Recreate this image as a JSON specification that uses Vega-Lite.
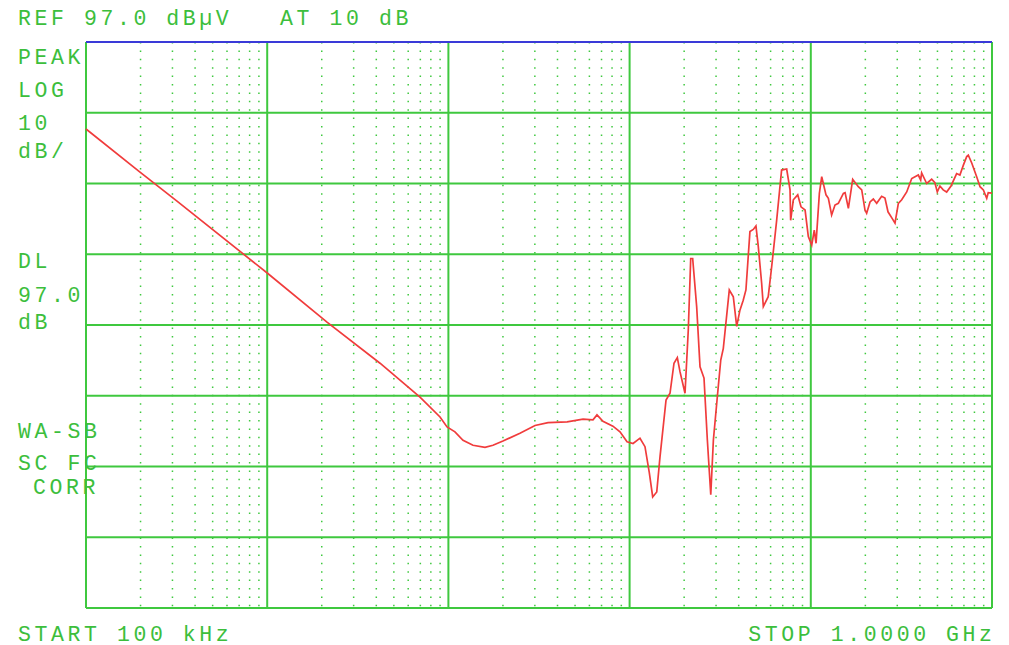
{
  "$schema": "https://vega.github.io/schema/vega-lite/v6.json",
  "width": 906,
  "height": 566,
  "autosize": {"type": "none"},
  "padding": {"left": 86, "top": 42, "right": 17, "bottom": 37},
  "background": "white",
  "config": {"view": {"stroke": null}},
  "datasets": {
    "trace": [
      {"f": 10000, "db": 84.7}, {"f": 19860, "db": 78.6}, {"f": 31780, "db": 74.5},
      {"f": 100000, "db": 64.35}, {"f": 213800, "db": 57.4}, {"f": 419400, "db": 51.6},
      {"f": 697000, "db": 46.8}, {"f": 899000, "db": 44.0}, {"f": 983000, "db": 42.6},
      {"f": 1087000, "db": 41.9}, {"f": 1204000, "db": 40.7}, {"f": 1367000, "db": 40.0},
      {"f": 1592000, "db": 39.7}, {"f": 1762000, "db": 40.0}, {"f": 2000000, "db": 40.6},
      {"f": 2483000, "db": 41.7}, {"f": 3006000, "db": 42.8}, {"f": 3548000, "db": 43.2},
      {"f": 4520000, "db": 43.3}, {"f": 5535000, "db": 43.7}, {"f": 6280000, "db": 43.6},
      {"f": 6607000, "db": 44.3}, {"f": 7130000, "db": 43.4}, {"f": 8090000, "db": 42.7},
      {"f": 8850000, "db": 41.9}, {"f": 9680000, "db": 40.5}, {"f": 10450000, "db": 40.25},
      {"f": 11410000, "db": 41.0}, {"f": 12160000, "db": 39.8}, {"f": 12850000, "db": 36.1},
      {"f": 13410000, "db": 32.7}, {"f": 14120000, "db": 33.4}, {"f": 14720000, "db": 38.4},
      {"f": 15890000, "db": 46.4}, {"f": 16710000, "db": 47.35}, {"f": 17580000, "db": 51.6},
      {"f": 18340000, "db": 52.4}, {"f": 18970000, "db": 50.4}, {"f": 20220000, "db": 47.35},
      {"f": 21080000, "db": 56.3}, {"f": 21740000, "db": 66.4}, {"f": 22290000, "db": 66.4},
      {"f": 23450000, "db": 59.6}, {"f": 24470000, "db": 51.1}, {"f": 25740000, "db": 49.5},
      {"f": 26860000, "db": 40.75}, {"f": 28050000, "db": 33.0}, {"f": 29000000, "db": 40.75},
      {"f": 30500000, "db": 46.9}, {"f": 31850000, "db": 52.05}, {"f": 32900000, "db": 53.7},
      {"f": 35500000, "db": 61.95}, {"f": 37350000, "db": 61.0}, {"f": 39000000, "db": 56.8},
      {"f": 40640000, "db": 59.1}, {"f": 42370000, "db": 60.5}, {"f": 43850000, "db": 61.95},
      {"f": 46140000, "db": 70.2}, {"f": 48150000, "db": 70.5}, {"f": 49800000, "db": 71.0},
      {"f": 51300000, "db": 68.1}, {"f": 53550000, "db": 62.9}, {"f": 54700000, "db": 59.6},
      {"f": 58200000, "db": 61.0}, {"f": 60800000, "db": 65.2}, {"f": 64800000, "db": 71.8},
      {"f": 69000000, "db": 78.9}, {"f": 73600000, "db": 79.05}, {"f": 76800000, "db": 76.1},
      {"f": 77400000, "db": 71.8}, {"f": 80100000, "db": 74.7}, {"f": 84700000, "db": 75.4},
      {"f": 88300000, "db": 73.7}, {"f": 93000000, "db": 73.25}, {"f": 96900000, "db": 69.5},
      {"f": 101200000, "db": 68.3}, {"f": 104500000, "db": 70.4}, {"f": 106900000, "db": 68.55},
      {"f": 111500000, "db": 75.6}, {"f": 114900000, "db": 77.96}, {"f": 121300000, "db": 75.4},
      {"f": 125000000, "db": 74.9}, {"f": 130300000, "db": 72.55}, {"f": 136000000, "db": 73.96},
      {"f": 141900000, "db": 74.2}, {"f": 151300000, "db": 75.6}, {"f": 154600000, "db": 75.7},
      {"f": 161200000, "db": 73.5}, {"f": 170300000, "db": 77.6}, {"f": 182900000, "db": 76.55},
      {"f": 191000000, "db": 76.1}, {"f": 199100000, "db": 73.25}, {"f": 203300000, "db": 72.8},
      {"f": 212300000, "db": 74.4}, {"f": 221300000, "db": 74.8}, {"f": 231000000, "db": 74.2},
      {"f": 246000000, "db": 75.2}, {"f": 256600000, "db": 74.95}, {"f": 266700000, "db": 73.0},
      {"f": 280500000, "db": 72.1}, {"f": 291500000, "db": 71.4}, {"f": 304200000, "db": 74.2},
      {"f": 317500000, "db": 74.7}, {"f": 338300000, "db": 75.8}, {"f": 360500000, "db": 77.7},
      {"f": 392000000, "db": 78.2}, {"f": 404000000, "db": 77.5}, {"f": 409000000, "db": 78.5},
      {"f": 436000000, "db": 77.0}, {"f": 464500000, "db": 77.6}, {"f": 484000000, "db": 77.1},
      {"f": 499000000, "db": 75.8}, {"f": 516000000, "db": 76.65}, {"f": 538000000, "db": 76.1},
      {"f": 562000000, "db": 75.8}, {"f": 594000000, "db": 76.65}, {"f": 638000000, "db": 78.4},
      {"f": 665000000, "db": 78.2}, {"f": 695000000, "db": 79.6}, {"f": 725000000, "db": 80.8},
      {"f": 740000000, "db": 81.0}, {"f": 773000000, "db": 79.9}, {"f": 823000000, "db": 77.96},
      {"f": 859000000, "db": 76.55}, {"f": 896000000, "db": 76.1}, {"f": 935000000, "db": 74.9},
      {"f": 953000000, "db": 75.7}, {"f": 1000000000, "db": 75.65}
    ],
    "minor": [
      {"f": 20000}, {"f": 30000}, {"f": 40000}, {"f": 50000}, {"f": 60000}, {"f": 70000}, {"f": 80000}, {"f": 90000},
      {"f": 200000}, {"f": 300000}, {"f": 400000}, {"f": 500000}, {"f": 600000}, {"f": 700000}, {"f": 800000}, {"f": 900000},
      {"f": 2000000}, {"f": 3000000}, {"f": 4000000}, {"f": 5000000}, {"f": 6000000}, {"f": 7000000}, {"f": 8000000}, {"f": 9000000},
      {"f": 20000000}, {"f": 30000000}, {"f": 40000000}, {"f": 50000000}, {"f": 60000000}, {"f": 70000000}, {"f": 80000000}, {"f": 90000000},
      {"f": 200000000}, {"f": 300000000}, {"f": 400000000}, {"f": 500000000}, {"f": 600000000}, {"f": 700000000}, {"f": 800000000}, {"f": 900000000}
    ],
    "majorx": [
      {"f": 10000}, {"f": 100000}, {"f": 1000000}, {"f": 10000000}, {"f": 100000000}, {"f": 1000000000}
    ],
    "majory": [
      {"db": 17}, {"db": 27}, {"db": 37}, {"db": 47}, {"db": 57}, {"db": 67}, {"db": 77}, {"db": 87}
    ],
    "labelsLeft": [
      {"label": "R\u2006E\u2006F\u2006 \u20069\u20067\u2006.\u20060\u2006 \u2006d\u2006B\u2006µ\u2006V", "f": 4214, "db": 99.4},
      {"label": "A\u2006T\u2006 \u20061\u20060\u2006 \u2006d\u2006B", "f": 117700, "db": 99.4},
      {"label": "P\u2006E\u2006A\u2006K", "f": 4214, "db": 93.9},
      {"label": "L\u2006O\u2006G", "f": 4214, "db": 89.2},
      {"label": "1\u20060", "f": 4214, "db": 84.56},
      {"label": "d\u2006B\u2006/", "f": 4214, "db": 80.56},
      {"label": "D\u2006L", "f": 4214, "db": 65.1},
      {"label": "9\u20067\u2006.\u20060", "f": 4214, "db": 60.3},
      {"label": "d\u2006B", "f": 4214, "db": 56.5},
      {"label": "W\u2006A\u2006-\u2006S\u2006B", "f": 4214, "db": 41.07},
      {"label": "S\u2006C\u2006 \u2006F\u2006C", "f": 4214, "db": 36.5},
      {"label": "C\u2006O\u2006R\u2006R", "f": 5098, "db": 33.07},
      {"label": "S\u2006T\u2006A\u2006R\u2006T\u2006 \u20061\u20060\u20060\u2006 \u2006k\u2006H\u2006z", "f": 4214, "db": 12.4}
    ],
    "labelsRight": [
      {"label": "S\u2006T\u2006O\u2006P\u2006 \u20061\u2006.\u20060\u20060\u20060\u20060\u2006 \u2006G\u2006H\u2006z", "f": 1000000000, "db": 12.4}
    ]
  },
  "layer": [
    {
      "data": {"name": "minor"},
      "mark": {"type": "rule", "color": "#3fc83f", "strokeWidth": 1.5, "strokeDash": [1.5, 6.9]},
      "encoding": {
        "x": {"field": "f", "type": "quantitative", "scale": {"type": "log", "domain": [10000, 1000000000], "nice": false}, "axis": null}
      }
    },
    {
      "data": {"name": "majory"},
      "mark": {"type": "rule", "color": "#3fc83f", "strokeWidth": 2},
      "encoding": {
        "y": {"field": "db", "type": "quantitative", "scale": {"domain": [17, 97], "nice": false, "zero": false}, "axis": null}
      }
    },
    {
      "data": {"name": "majorx"},
      "mark": {"type": "rule", "color": "#3fc83f", "strokeWidth": 2},
      "encoding": {
        "x": {"field": "f", "type": "quantitative"}
      }
    },
    {
      "data": {"values": [{"db": 97}]},
      "mark": {"type": "rule", "color": "#3a3ad8", "strokeWidth": 2},
      "encoding": {
        "y": {"field": "db", "type": "quantitative"}
      }
    },
    {
      "data": {"name": "trace"},
      "mark": {"type": "line", "color": "#f03c3c", "strokeWidth": 1.7, "interpolate": "linear"},
      "encoding": {
        "x": {"field": "f", "type": "quantitative"},
        "y": {"field": "db", "type": "quantitative"}
      }
    },
    {
      "data": {"name": "labelsLeft"},
      "mark": {"type": "text", "align": "left", "baseline": "alphabetic", "font": "Liberation Mono", "fontSize": 21.5, "color": "#3cbe3c", "clip": false},
      "encoding": {
        "x": {"field": "f", "type": "quantitative"},
        "y": {"field": "db", "type": "quantitative"},
        "text": {"field": "label"}
      }
    },
    {
      "data": {"name": "labelsRight"},
      "mark": {"type": "text", "align": "right", "baseline": "alphabetic", "font": "Liberation Mono", "fontSize": 21.5, "color": "#3cbe3c", "clip": false},
      "encoding": {
        "x": {"field": "f", "type": "quantitative"},
        "y": {"field": "db", "type": "quantitative"},
        "text": {"field": "label"}
      }
    }
  ]
}
